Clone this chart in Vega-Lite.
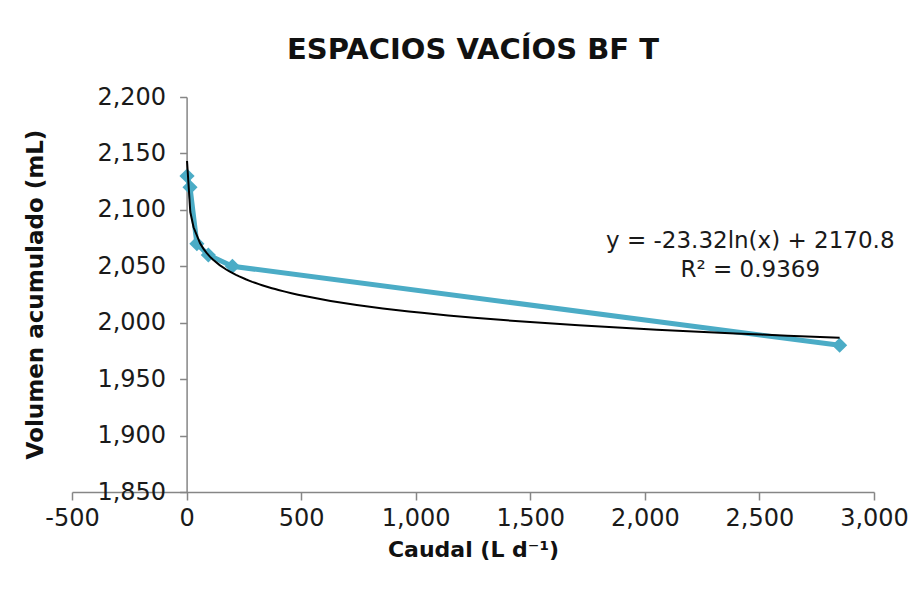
{
  "$schema": "https://vega.github.io/schema/vega-lite/v6.json",
  "autosize": {"type": "none"},
  "width": 802,
  "height": 395,
  "padding": {"left": 72, "top": 97, "right": 44, "bottom": 106},
  "background": "white",
  "config": {
    "font": "DejaVu Sans",
    "view": {"stroke": null},
    "axis": {"grid": false, "domainColor": "#868686", "tickColor": "#868686", "domainWidth": 1.5, "tickWidth": 1.5, "labelColor": "#1a1a1a", "titleColor": "#111111", "labelFont": "DejaVu Sans", "titleFont": "DejaVu Sans"}
  },
  "title": {"text": "ESPACIOS VACÍOS BF T", "fontSize": 29, "fontWeight": "bold", "color": "#111111", "anchor": "middle", "offset": 20, "font": "DejaVu Sans"},
  "data": {"values": [
    {"caudal": 2, "volumen": 2130},
    {"caudal": 15, "volumen": 2120},
    {"caudal": 45, "volumen": 2070},
    {"caudal": 95, "volumen": 2060},
    {"caudal": 200, "volumen": 2050},
    {"caudal": 2850, "volumen": 1980}
  ]},
  "encoding": {
    "x": {"field": "caudal", "type": "quantitative", "scale": {"domain": [-500, 3000], "nice": false, "zero": false},
      "axis": {"values": [-500, 0, 500, 1000, 1500, 2000, 2500, 3000], "labelExpr": "replace(format(datum.value, ',.0f'), '−', '-')", "labelFontSize": 24, "tickSize": 8, "labelPadding": 6, "title": "Caudal (L d⁻¹)", "titleFontSize": 22, "titleFontWeight": "bold", "titlePadding": 9, "labelFlush": false}},
    "y": {"field": "volumen", "type": "quantitative", "scale": {"domain": [1850, 2200], "nice": false, "zero": false},
      "axis": {"values": [1850, 1900, 1950, 2000, 2050, 2100, 2150, 2200], "labelExpr": "format(datum.value, ',.0f')", "labelFontSize": 24, "tickSize": 7, "labelPadding": 14, "offset": -114.6, "title": "Volumen acumulado (mL)", "titleFontSize": 23, "titleFontWeight": "bold", "titleX": -151, "titleY": 197, "titleAngle": -90, "titleAlign": "center", "titleBaseline": "middle"}}
  },
  "layer": [
    {"mark": {"type": "line", "color": "#4BACC6", "strokeWidth": 5}},
    {"mark": {"type": "point", "shape": "diamond", "filled": true, "color": "#4BACC6", "size": 230, "opacity": 1}},
    {"transform": [{"regression": "volumen", "on": "caudal", "method": "log", "extent": [2, 2850]}],
      "mark": {"type": "line", "color": "#000000", "strokeWidth": 2}},
    {"transform": [{"filter": "datum.caudal == 2850"}],
      "mark": {"type": "text", "fontSize": 23, "color": "#1a1a1a", "align": "center", "baseline": "middle", "lineHeight": 29, "text": ["y = -23.32ln(x) + 2170.8", "R² = 0.9369"]},
      "encoding": {"x": {"datum": 2460}, "y": {"datum": 2072}}}
  ]
}
